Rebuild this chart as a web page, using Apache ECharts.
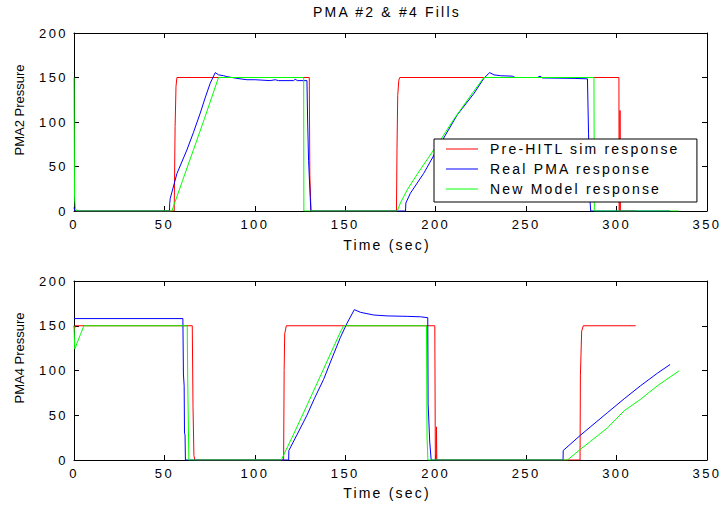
<!DOCTYPE html>
<html><head><meta charset="utf-8">
<script src="https://cdn.jsdelivr.net/npm/echarts@6/dist/echarts.min.js"></script>
<style>html,body{margin:0;padding:0;background:#fff}#c{width:722px;height:505px}</style>
</head><body><div id="c"></div>
<script>
const titleText = 'PMA #2 & #4 Fills';
const seriesNames = ['Pre-HITL sim response', 'Real PMA response', 'New Model response'];
const xName = 'Time (sec)';
const yNames = ['PMA2 Pressure', 'PMA4 Pressure'];
const xTicks = [0, 50, 100, 150, 200, 250, 300, 350];
const yTicks = [0, 50, 100, 150, 200];

// PMA2 (top panel) [time, pressure]
const pma2Red = [[0,0],[55.4,0],[55.9,95],[56.4,140],[56.9,150],[130.1,150],[130.4,40],[130.8,15],[131,0],[178.3,0],[178.6,70],[179,130],[179.6,147],[180.1,150],[301.3,150],[301.4,0],[301.8,0],[301.9,113],[302.1,0],[310.6,0]];
const pma2Blue = [[0,4],[0.5,0],[52.8,0],[52.9,8],[53.2,14],[56.9,42],[62.4,68.5],[66,88],[69.8,110],[72.5,127],[75.3,143.5],[78.1,155.5],[79.9,153],[82.7,152],[84.5,151],[90.1,149],[95.6,147.5],[100,147.5],[108.5,146.5],[111.3,147.5],[113,146.5],[121.4,146.5],[122.3,148],[123.5,146.5],[128.8,146.5],[129.2,100],[129.7,57],[130.6,16],[131,0],[183.3,0],[183.5,9],[186,20],[193.4,42.4],[202.7,76],[211.9,108],[221.1,132],[226.6,149],[229.8,155.5],[232.2,153],[235.9,152],[242.3,151.5],[244,150],[256.2,150],[257.7,151.5],[259,149.5],[276.5,149],[283.9,148.5],[284.5,87.5],[285.3,12],[285.7,0],[329.6,0]];
const pma2Green = [[0,150],[0.3,15],[0.8,3],[1.5,0],[54.1,0],[60,34],[66.1,69],[72,103],[79.9,150],[127,150],[127.1,0],[178.7,0],[180.5,9],[184.2,23.6],[190,42],[196,60],[202.7,80],[210,103],[218,126],[226.6,150],[287.5,150],[287.7,0],[334.6,0]];

// PMA4 (bottom panel) [time, pressure]
const pma4Red = [[0,150],[0.3,146],[0.6,150],[65.4,150],[65.8,60],[66.3,5],[66.8,0],[115.9,0],[116.2,100],[116.5,141],[117.4,150],[199.5,150],[199.8,0],[200.2,0],[200.4,37],[200.6,0],[279.8,0],[280,94],[280.7,144],[281.6,150],[310.6,150]];
const pma4Blue = [[0,158],[60.2,158],[60.5,96],[60.9,83],[61.1,30],[61.4,28],[61.6,0],[118.7,0],[118.8,10.6],[123.5,29],[128.8,50],[133,69],[138,90],[142.5,113],[147.3,137],[151,153],[155,168],[158.4,165],[165.7,162],[173.1,161],[184.2,160.5],[191.6,160],[195.6,159],[195.8,62.8],[196.7,20],[197.5,0],[270.4,0],[270.5,10.6],[280.2,28],[295,53],[304.2,68.4],[313.4,83.2],[322.6,97],[329.6,106.7]];
const pma4Green = [[0,150],[0.4,124],[1,127],[3.5,140],[5.5,150],[62.6,150],[62.9,87],[63.5,0],[114.6,0],[121,27],[128.8,61],[138,101.7],[143,124],[147.3,143],[149.1,150],[194.9,150],[195.2,25],[195.7,0],[272.8,0],[280,12],[285.7,21],[295,36],[304.2,55],[313.4,68],[322.6,83],[334.6,99.7]];

const colors = ['#ff0000', '#0000ff', '#00ff00'];
const FONT = 'Liberation Sans, Arial, Helvetica, sans-serif';

const chart = echarts.init(document.getElementById('c'), null, {renderer: 'svg'});

function xAx(gi, pos) {
  return {
    gridIndex: gi, type: 'value', position: pos,
    min: xTicks[0], max: xTicks[xTicks.length - 1], interval: xTicks[1] - xTicks[0],
    axisLine: {show: true, onZero: false, lineStyle: {color: '#000', width: 1}},
    axisTick: {show: true, inside: true, length: 5, lineStyle: {color: '#000'}},
    axisLabel: {show: pos === 'bottom', color: '#000', fontSize: 13, fontFamily: FONT, margin: 7},
    splitLine: {show: false}
  };
}
function yAx(gi, pos) {
  return {
    gridIndex: gi, type: 'value', position: pos,
    min: yTicks[0], max: yTicks[yTicks.length - 1], interval: yTicks[1] - yTicks[0],
    axisLine: {show: true, onZero: false, lineStyle: {color: '#000', width: 1}},
    axisTick: {show: true, inside: true, length: 5, lineStyle: {color: '#000'}},
    axisLabel: {show: pos === 'left', color: '#000', fontSize: 13, fontFamily: FONT, margin: 6},
    splitLine: {show: false}
  };
}
function ser(name, data, color, gi) {
  return {
    name, type: 'line', data, xAxisIndex: gi * 2, yAxisIndex: gi * 2,
    symbol: 'none', showSymbol: false, animation: false,
    lineStyle: {color, width: 1}, itemStyle: {color}
  };
}

const option = {
  animation: false,
  backgroundColor: '#fff',
  title: {text: titleText, left: 308, top: 0, textStyle: {fontSize: 14, fontWeight: 'normal', color: '#000', fontFamily: FONT}},
  grid: [
    {left: 74, right: 15, top: 33, height: 178},
    {left: 74, right: 15, top: 281, height: 179}
  ],
  xAxis: [xAx(0, 'bottom'), xAx(0, 'top'), xAx(1, 'bottom'), xAx(1, 'top')],
  yAxis: [yAx(0, 'left'), yAx(0, 'right'), yAx(1, 'left'), yAx(1, 'right')],
  legend: {
    orient: 'vertical', left: 434, top: 139, data: seriesNames, selectedMode: false,
    icon: 'rect',
    backgroundColor: '#fff', borderColor: '#000', borderWidth: 1,
    padding: [3, 63, 6, 12], itemWidth: 32, itemHeight: 1, itemGap: 6,
    textStyle: {fontSize: 14, lineHeight: 14, color: '#000', fontFamily: FONT, padding: [0, 0, 0, 7]},
    z: 10
  },
  graphic: [
    {type: 'text', x: 387, y: 245, style: {text: xName, fontSize: 14, fontFamily: FONT, fill: '#000', textAlign: 'center', textVerticalAlign: 'middle', align: 'center', verticalAlign: 'middle'}},
    {type: 'text', x: 387, y: 493, style: {text: xName, fontSize: 14, fontFamily: FONT, fill: '#000', textAlign: 'center', textVerticalAlign: 'middle', align: 'center', verticalAlign: 'middle'}},
    {type: 'text', x: 19, y: 110, rotation: Math.PI / 2, style: {text: yNames[0], fontSize: 13, fontFamily: FONT, fill: '#000', textAlign: 'center', textVerticalAlign: 'middle', align: 'center', verticalAlign: 'middle'}},
    {type: 'text', x: 19, y: 358, rotation: Math.PI / 2, style: {text: yNames[1], fontSize: 13, fontFamily: FONT, fill: '#000', textAlign: 'center', textVerticalAlign: 'middle', align: 'center', verticalAlign: 'middle'}}
  ],
  series: [
    ser(seriesNames[0], pma2Red, colors[0], 0),
    ser(seriesNames[1], pma2Blue, colors[1], 0),
    ser(seriesNames[2], pma2Green, colors[2], 0),
    ser(seriesNames[0], pma4Red, colors[0], 1),
    ser(seriesNames[1], pma4Blue, colors[1], 1),
    ser(seriesNames[2], pma4Green, colors[2], 1)
  ]
};
chart.setOption(option);

function applySpacing() {
  document.querySelectorAll('#c svg text').forEach(t => {
    const s = t.textContent || '';
    if (/Pressure/.test(s)) t.style.letterSpacing = '0px';
    else if (/^\d+$/.test(s)) t.style.letterSpacing = '2.4px';
    else t.style.letterSpacing = '2.2px';
  });
}
applySpacing();
chart.on('finished', applySpacing);
</script>
</body></html>
